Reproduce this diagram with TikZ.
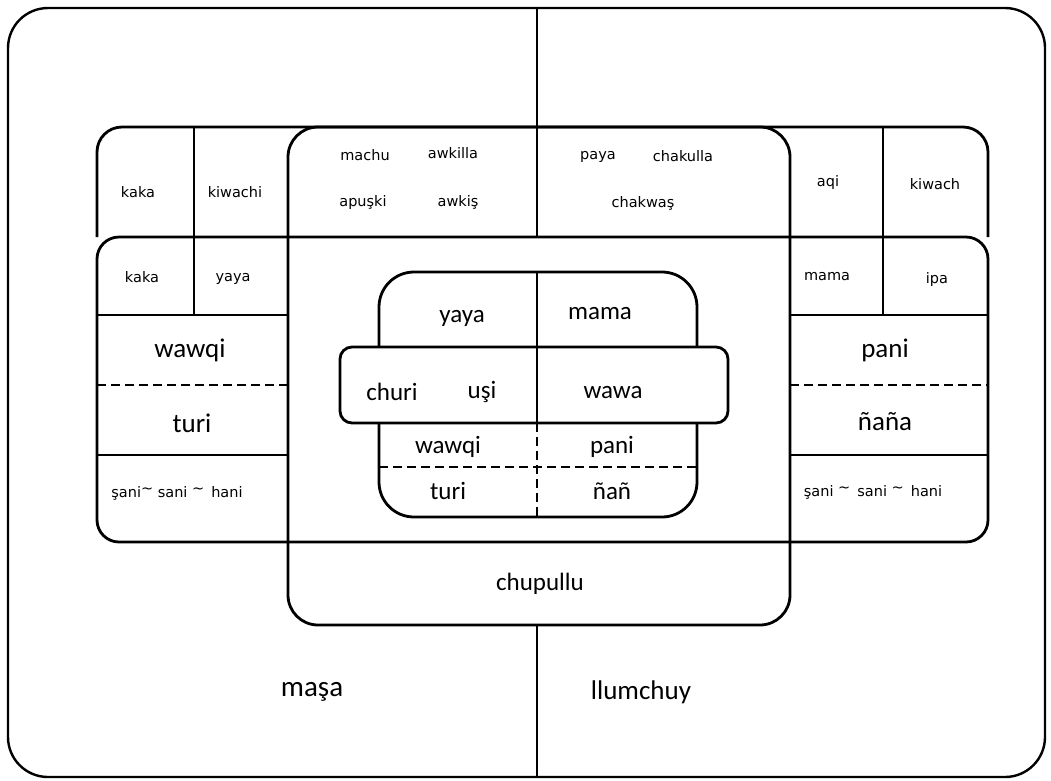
\documentclass[tikz,border=0pt]{standalone}
\usepackage{fontspec}
\setmainfont{Carlito}
\newfontfamily\smallfont{DejaVu Sans}
\newcommand{\tld}{\raisebox{0.4ex}{\textasciitilde}}
\begin{document}
\begin{tikzpicture}[x=1pt,y=-1pt,line join=round,
  ln/.style={line width=2.8pt},
  thin ln/.style={line width=2pt},
  dsh/.style={line width=2.6pt,dash pattern=on 9pt off 5pt},
  big/.style={font=\fontsize{25}{28}\selectfont,inner sep=0pt},
  huge/.style={font=\fontsize{27}{30}\selectfont,inner sep=0pt},
  sm/.style={font=\smallfont\fontsize{14.5}{16}\selectfont,inner sep=0pt}]
\useasboundingbox (0,0) rectangle (1051,780);
\fill[white] (0,0) rectangle (1051,780);
% outer frame
\draw[line width=2.4pt,rounded corners=40pt] (8,8) rectangle (1045,777);
\coordinate (vt) at (537,8);
\coordinate (vtb) at (537,127);
\coordinate (vb) at (537,625);
\coordinate (vbb) at (537,777);
\draw[thin ln] (vt) -- (vtb);
\draw[thin ln] (vb) -- (vbb);
% top band
\draw[ln,rounded corners=25pt] (97,237) -- (97,127) -- (988,127) -- (988,237);
\draw[ln] (194,127) -- (194,315);
\draw[ln] (883,127) -- (883,315);
% middle band
\draw[ln,rounded corners=22pt] (97,237) rectangle (988,542);
% centre box
\draw[ln,rounded corners=30pt] (288,127) rectangle (790,625);
\draw[ln] (537,127) -- (537,237);
% side panels
\draw[ln] (97,315) -- (288,315);
\draw[dsh] (97,385) -- (288,385);
\draw[ln] (97,455) -- (288,455);
\draw[ln] (790,315) -- (988,315);
\draw[dsh] (790,385) -- (988,385);
\draw[ln] (790,455) -- (988,455);
% inner box
\draw[ln,rounded corners=35pt] (379,272) rectangle (697,517);
\draw[dsh] (379,467) -- (697,467);
\draw[dsh] (537,423) -- (537,517);
\draw[ln,fill=white,rounded corners=12pt] (340,347) rectangle (728,423);
\draw[ln] (537,272) -- (537,423);
% texts: top band
\node[sm] (t1) at (138,192) {kaka};
\node[sm] (t2) at (235,192) {kiwachi};
\node[sm] (t3) at (828,182) {aqi};
\node[sm] (t4) at (935,184) {kiwach};
\node[sm] (t5) at (365,155) {machu};
\node[sm] (t6) at (453,153) {awkilla};
\node[sm] (t7) at (363,202) {apuşki};
\node[sm] (t8) at (458,202) {awkiş};
\node[sm] (t9) at (598,157) {paya};
\node[sm] (t10) at (683,156) {chakulla};
\node[sm] (t11) at (643,203) {chakwaş};
% left panel
\node[sm] (l1) at (142,277) {kaka};
\node[sm] (l2) at (233,279) {yaya};
\node[huge] (l3) at (190,350) {wawqi};
\node[huge] (l4) at (192,423) {turi};
\node[sm] (l5) at (177,493) {şani\tld{} sani \tld\, hani};
% right panel
\node[sm] (r1) at (827,277) {mama};
\node[sm] (r2) at (937,279) {ipa};
\node[huge] (r3) at (885,350) {pani};
\node[huge] (r4) at (885,422) {ñaña};
\node[sm] (r5) at (873,492) {şani \tld\, sani \tld\, hani};
% inner
\node[big] (i1) at (462,318) {yaya};
\node[big] (i2) at (600,314) {mama};
\node[big] (i3) at (392,392) {churi};
\node[big] (i4) at (482,392) {uşi};
\node[big] (i5) at (613,393) {wawa};
\node[big] (i6) at (448,447) {wawqi};
\node[big] (i7) at (612,447) {pani};
\node[big] (i8) at (448,491) {turi};
\node[big] (i9) at (612,491) {ñañ};
\node[big] (c1) at (540,584) {chupullu};
\node[font=\fontsize{29}{32}\selectfont,inner sep=0pt] (m1) at (312,692) {maşa};
\node[huge] (m2) at (641,692) {llumchuy};
\end{tikzpicture}
\end{document}
